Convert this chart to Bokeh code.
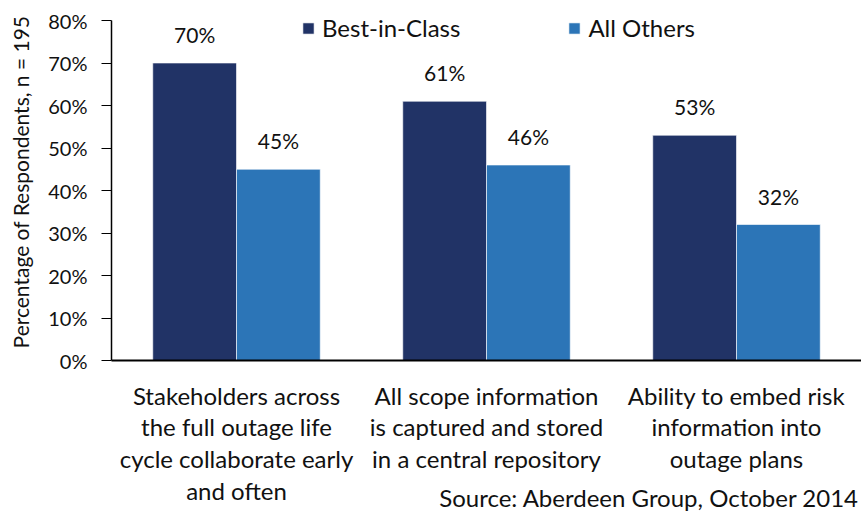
from bokeh.plotting import figure
from bokeh.models import (ColumnDataSource, FactorRange, Range1d, Legend, LegendItem,
                          LabelSet, PrintfTickFormatter, FixedTicker, Div)
from bokeh.layouts import column
from bokeh.core.properties import value
from bokeh.transform import dodge
from bokeh.embed import file_html
from bokeh.resources import INLINE

categories = ["Stakeholders across\nthe full outage life\ncycle collaborate early\nand often",
              "All scope information\nis captured and stored\nin a central repository",
              "Ability to embed risk\ninformation into\noutage plans"]
series_names = ["Best-in-Class", "All Others"]
best_in_class = [70, 61, 53]
all_others = [45, 46, 32]
y_ticks = [0, 10, 20, 30, 40, 50, 60, 70, 80]
y_title = "Percentage of Respondents, n = 195"
source_note = "Source: Aberdeen Group, October 2014"

FONT = "Lato"
TXT = "#111111"
DARK = "#213366"
BLUE = "#2C75B7"

src = ColumnDataSource(dict(
    cat=categories,
    bic=best_in_class,
    oth=all_others,
    bic_lbl=[f"{v}%" for v in best_in_class],
    oth_lbl=[f"{v}%" for v in all_others],
))

# the frame reaches a little above 80% so the legend sits inside it;
# the y axis itself is bounded to 0..80
p = figure(width=861, height=514, x_range=FactorRange(*categories, range_padding=0),
           y_range=Range1d(0, 84), output_backend="svg", toolbar_location=None,
           min_border_left=111, min_border_right=0, min_border_top=3, min_border_bottom=154)
p.outline_line_color = None
p.xgrid.grid_line_color = None
p.ygrid.grid_line_color = None

bw = 0.335
r1 = p.vbar(x=dodge("cat", -bw / 2, range=p.x_range), top="bic", width=bw, source=src,
            fill_color=DARK, line_color="white", line_width=0.6)
r2 = p.vbar(x=dodge("cat", bw / 2, range=p.x_range), top="oth", width=bw, source=src,
            fill_color=BLUE, line_color="white", line_width=0.6)

for col, lbl, off in (("bic", "bic_lbl", -bw / 2), ("oth", "oth_lbl", bw / 2)):
    ls = LabelSet(x=dodge("cat", off, range=p.x_range), y=col, text=lbl, source=src,
                  text_align="center", text_baseline="alphabetic", y_offset=20,
                  text_font=value(FONT), text_font_size=value("21px"), text_color=TXT)
    p.add_layout(ls)

legend = Legend(items=[LegendItem(label=series_names[0], renderers=[r1]),
                       LegendItem(label=series_names[1], renderers=[r2])],
                orientation="horizontal", location=(190, 318), padding=0, margin=0,
                spacing=107, glyph_width=14, glyph_height=14, label_standoff=7,
                label_text_font=FONT, label_text_font_size="24px", label_text_color=TXT,
                border_line_color=None, background_fill_alpha=0)
p.add_layout(legend)

# y axis
p.yaxis.bounds = (0, 80)
p.yaxis.ticker = FixedTicker(ticks=y_ticks)
p.yaxis.formatter = PrintfTickFormatter(format="%d%%")
p.yaxis.major_tick_out = 10
p.yaxis.major_tick_in = 0
p.yaxis.minor_tick_line_color = None
p.yaxis.axis_line_color = "black"
p.yaxis.axis_line_width = 1.5
p.yaxis.major_tick_line_color = "black"
p.yaxis.major_label_text_font = FONT
p.yaxis.major_label_text_font_size = "20px"
p.yaxis.major_label_text_color = TXT
p.yaxis.major_label_standoff = 14
p.yaxis.axis_label = y_title
p.yaxis.axis_label_text_font = FONT
p.yaxis.axis_label_text_font_size = "21px"
p.yaxis.axis_label_text_font_style = "normal"
p.yaxis.axis_label_text_color = TXT
p.yaxis.axis_label_standoff = 12

# x axis
p.xaxis.major_tick_line_color = None
p.xaxis.minor_tick_line_color = None
p.xaxis.axis_line_color = "black"
p.xaxis.axis_line_width = 2
p.xaxis.major_label_text_font = FONT
p.xaxis.major_label_text_font_size = "24px"
p.xaxis.major_label_text_color = TXT
p.xaxis.major_label_text_line_height = 1.1
p.xaxis.major_label_standoff = 14

# source note, overlapping the bottom-right corner of the figure
note = Div(text=source_note, width=861, height=30, margin=(-30, 0, 0, 0),
           styles={"text-align": "right", "font-family": "Lato", "font-size": "24px",
                   "color": TXT, "line-height": "28px", "padding-right": "3px",
                   "box-sizing": "border-box", "white-space": "nowrap"})

layout = column(p, note, spacing=0)

open("out.html", "w").write(file_html(layout, INLINE))
